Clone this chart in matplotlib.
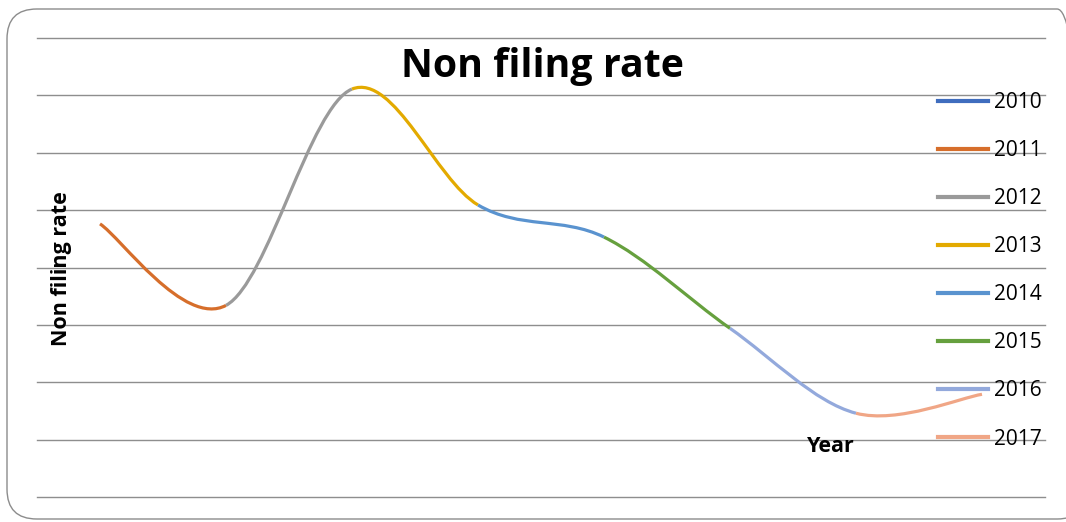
import matplotlib
matplotlib.use("Agg")
import matplotlib.pyplot as plt
from matplotlib.path import Path
from matplotlib.patches import PathPatch, FancyBboxPatch
from matplotlib.lines import Line2D

# Non filing rate per year (arbitrary units, gridlines every 1)
years = ["2010", "2011", "2012", "2013", "2014", "2015", "2016", "2017"]
rates = [4.76, 3.34, 7.11, 5.09, 4.53, 2.94, 1.46, 1.79]
colors = ["#3F6DBE", "#D66E2B", "#9A9A9A", "#E3AA00",
          "#5A93CF", "#66A03E", "#93A9DC", "#F0A686"]

W, H = 1066, 522
fig = plt.figure(figsize=(W / 100, H / 100), dpi=100)
fig.patch.set_facecolor("white")

# rounded chart border
box = FancyBboxPatch((7 / W, 3 / H), 1080 / W, 510 / H,
                     boxstyle="round,pad=0,rounding_size=0.028",
                     transform=fig.transFigure, facecolor="none",
                     edgecolor="#8C8C8C", linewidth=1.0, mutation_aspect=W / H)
fig.patches.append(box)

ax = fig.add_axes([37 / W, (H - 497) / H, (1045 - 37) / W, (497 - 38) / H])
ax.set_xlim(-0.5, len(years) - 0.5)
ax.set_ylim(0, 8)
ax.set_yticks(range(0, 9))
ax.set_xticks([])
ax.tick_params(left=False, labelleft=False)
for s in ax.spines.values():
    s.set_visible(False)
ax.grid(axis="y", color="#8E8E8E", linewidth=1.0)
for gl in ax.get_ygridlines():
    gl.set_clip_on(False)
ax.set_axisbelow(True)

# smoothed line, each year's segment coloured by that year
x = list(range(len(rates)))
pts = list(zip(x, rates))
n = len(pts)
for i in range(n - 1):
    p0 = pts[max(i - 1, 0)]
    p1 = pts[i]
    p2 = pts[i + 1]
    p3 = pts[min(i + 2, n - 1)]
    c1 = (p1[0] + (p2[0] - p0[0]) / 6, p1[1] + (p2[1] - p0[1]) / 6)
    c2 = (p2[0] - (p3[0] - p1[0]) / 6, p2[1] - (p3[1] - p1[1]) / 6)
    path = Path([p1, c1, c2, p2],
                [Path.MOVETO, Path.CURVE4, Path.CURVE4, Path.CURVE4])
    ax.add_patch(PathPatch(path, facecolor="none", edgecolor=colors[i + 1],
                           linewidth=2.3, capstyle="butt"))

fig.text(542 / W, 1 - 66 / H, "Non filing rate", ha="center", va="center",
         fontsize=28.3, fontweight="bold", family="Open Sans")
fig.text(62 / W, 1 - 269 / H, "Non filing rate", ha="center", va="center",
         rotation=90, fontsize=15.5, fontweight="bold", family="Open Sans")
fig.text(831 / W, 1 - 446 / H, "Year", ha="center", va="center",
         fontsize=15.5, fontweight="bold", family="Open Sans")

handles = [Line2D([], [], color=c, linewidth=3) for c in colors]
fig.legend(handles, years, loc="upper left",
           bbox_to_anchor=(938 / W, 1 - 92 / H), frameon=False,
           prop={"family": "Open Sans", "size": 15},
           handlelength=2.4, handletextpad=0.3, labelspacing=1.30,
           borderaxespad=0, borderpad=0)

fig.savefig("out.png", dpi=100, facecolor="white")
